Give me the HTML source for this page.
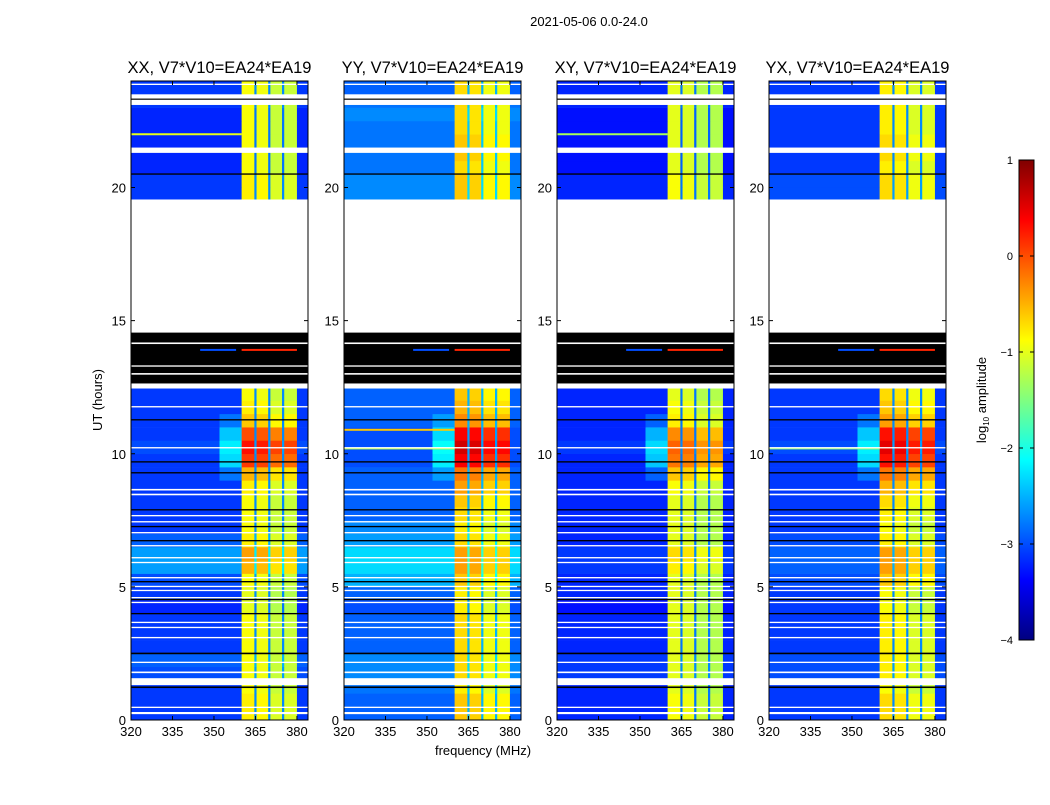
<!DOCTYPE html>
<html><head><meta charset="utf-8"><style>
html,body{margin:0;padding:0;background:#fff;}
svg text{font-family:"Liberation Sans",sans-serif;fill:#000;}
</style></head><body>
<svg id="fig" width="1050" height="800" xmlns="http://www.w3.org/2000/svg">
<defs>
<linearGradient id="jet" x1="0" y1="1" x2="0" y2="0"></linearGradient>
</defs>
<text x="589" y="26" font-size="13" text-anchor="middle">2021-05-06 0.0-24.0</text>
<text x="483" y="755" font-size="13" text-anchor="middle">frequency (MHz)</text>
<text x="102" y="400" font-size="13" text-anchor="middle" transform="rotate(-90 102 400)">UT (hours)</text>
<g id="panels"></g>
<g id="cbar"></g>
</svg>
<script>
const titles = ["XX, V7*V10=EA24*EA19","YY, V7*V10=EA24*EA19","XY, V7*V10=EA24*EA19","YX, V7*V10=EA24*EA19"];
const xTicks = [320,335,350,365,380];
const yTicks = [0,5,10,15,20];
const cbTicks = [1,0,-1,-2,-3,-4];
// log10 amplitude per 0.5h bin (bin i covers i*0.5 .. i*0.5+0.5); null = no data
const inXX = [-0.8,-0.8,-0.9,-0.9,-0.9,-0.9,-0.9,-0.9,-1.0,-1.0,-0.9,-0.5,-0.4,-0.8,-0.9,-0.9,-0.9,-0.8,-0.5,0.1,0.3,0.0,-0.6,-0.8,-0.9,null,null,null,null,null,null,null,null,null,null,null,null,null,null,-0.8,-0.8,-0.9,-0.9,-0.9,-0.9,-0.9,-0.9,-0.9];
const offXX = [-3.1,-3.1,-3.1,-3.0,-2.9,-3.1,-3.1,-3.1,-3.2,-3.1,-3.0,-2.6,-2.6,-2.9,-3.1,-3.1,-3.1,-3.1,-3.1,-3.1,-3.0,-3.1,-3.1,-3.1,-3.1,null,null,null,null,null,null,null,null,null,null,null,null,null,null,-3.1,-3.1,-3.2,-3.2,-3.2,-3.2,-3.2,-3.1,-3.1];
const haloXX = [-3.1,-3.1,-3.1,-3.0,-2.9,-3.1,-3.1,-3.1,-3.2,-3.1,-3.0,-2.6,-2.6,-2.9,-3.1,-3.1,-3.1,-3.1,-2.8,-2.3,-2.2,-2.4,-2.8,-3.1,-3.1,null,null,null,null,null,null,null,null,null,null,null,null,null,null,-3.1,-3.1,-3.2,-3.2,-3.2,-3.2,-3.2,-3.1,-3.1];
const inYY = [-0.6,-0.6,-0.8,-0.7,-0.7,-0.7,-0.7,-0.7,-0.8,-0.8,-0.6,-0.4,-0.4,-0.7,-0.8,-0.7,-0.6,-0.4,-0.2,0.4,0.6,0.4,-0.3,-0.5,-0.6,null,null,null,null,null,null,null,null,null,null,null,null,null,null,-0.6,-0.6,-0.7,-0.6,-0.6,-0.7,-0.7,-0.7,-0.7];
const offYY = [-2.9,-2.9,-2.8,-2.7,-2.7,-2.9,-2.9,-2.9,-3.0,-2.9,-2.5,-2.3,-2.3,-2.6,-2.7,-2.9,-2.9,-2.9,-2.9,-3.0,-3.0,-3.0,-2.9,-2.9,-2.9,null,null,null,null,null,null,null,null,null,null,null,null,null,null,-2.7,-2.7,-2.8,-2.8,-2.8,-2.8,-2.7,-2.8,-2.9];
const haloYY = [-2.9,-2.9,-2.8,-2.7,-2.7,-2.9,-2.9,-2.9,-3.0,-2.9,-2.5,-2.3,-2.3,-2.6,-2.7,-2.9,-2.9,-2.9,-2.6,-2.2,-2.1,-2.3,-2.6,-2.9,-2.9,null,null,null,null,null,null,null,null,null,null,null,null,null,null,-2.7,-2.7,-2.8,-2.8,-2.8,-2.8,-2.7,-2.8,-2.9];
const inXY = [-0.9,-0.9,-1.0,-1.0,-1.0,-1.0,-1.0,-1.0,-1.0,-1.0,-1.0,-0.8,-0.7,-1.0,-1.0,-1.0,-1.0,-0.9,-0.6,-0.2,-0.1,-0.3,-0.8,-0.9,-1.0,null,null,null,null,null,null,null,null,null,null,null,null,null,null,-0.9,-0.9,-1.0,-1.0,-1.0,-1.0,-1.0,-1.0,-1.0];
const offXY = [-3.2,-3.2,-3.2,-3.1,-3.1,-3.2,-3.2,-3.2,-3.3,-3.2,-3.2,-3.1,-3.1,-3.2,-3.2,-3.2,-3.2,-3.2,-3.2,-3.2,-3.1,-3.2,-3.2,-3.2,-3.2,null,null,null,null,null,null,null,null,null,null,null,null,null,null,-3.2,-3.2,-3.3,-3.3,-3.3,-3.3,-3.3,-3.2,-3.2];
const haloXY = [-3.2,-3.2,-3.2,-3.1,-3.1,-3.2,-3.2,-3.2,-3.3,-3.2,-3.2,-3.1,-3.1,-3.2,-3.2,-3.2,-3.2,-3.2,-2.9,-2.4,-2.3,-2.5,-2.9,-3.2,-3.2,null,null,null,null,null,null,null,null,null,null,null,null,null,null,-3.2,-3.2,-3.3,-3.3,-3.3,-3.3,-3.3,-3.2,-3.2];
const inYX = [-0.7,-0.7,-0.9,-0.8,-0.8,-0.8,-0.8,-0.8,-0.9,-0.9,-0.6,-0.4,-0.4,-0.8,-0.9,-0.8,-0.7,-0.5,-0.2,0.3,0.5,0.3,-0.4,-0.6,-0.7,null,null,null,null,null,null,null,null,null,null,null,null,null,null,-0.7,-0.7,-0.8,-0.7,-0.7,-0.8,-0.8,-0.8,-0.8];
const offYX = [-3.1,-3.1,-3.1,-3.0,-3.0,-3.1,-3.1,-3.1,-3.1,-3.1,-3.0,-2.9,-2.9,-3.0,-3.1,-3.1,-3.1,-3.1,-3.1,-3.1,-3.0,-3.1,-3.1,-3.1,-3.1,null,null,null,null,null,null,null,null,null,null,null,null,null,null,-3.0,-3.0,-3.1,-3.1,-3.1,-3.1,-3.1,-3.1,-3.1];
const haloYX = [-3.1,-3.1,-3.1,-3.0,-3.0,-3.1,-3.1,-3.1,-3.1,-3.1,-3.0,-2.9,-2.9,-3.0,-3.1,-3.1,-3.1,-3.1,-2.8,-2.3,-2.2,-2.4,-2.8,-3.1,-3.1,null,null,null,null,null,null,null,null,null,null,null,null,null,null,-3.0,-3.0,-3.1,-3.1,-3.1,-3.1,-3.1,-3.1,-3.1];
const segOffset = [0.0, -0.05, -0.25, -0.25];
// bright horizontal lines (hour, offband level)
const linesYY = [[10.2,-1.2],[10.9,-0.6]];
const linesYX = [[10.2,-1.4]];
const linesXX = [[22.0,-1.0]];
const linesXY = [[22.0,-1.3]];
// flagged time ranges (hours)
const whiteFlags = [[14.55,19.55],[23.1,23.5],[21.3,21.5],[1.31,1.57],[0.22,0.3],[0.45,0.5],[1.76,1.82],[2.14,2.19],[3.07,3.12],[3.45,3.5],[3.64,3.69],[4.39,4.44],[4.57,4.62],[4.84,4.89],[4.99,5.04],[5.32,5.37],[5.89,5.94],[6.07,6.12],[6.52,6.57],[7.01,7.06],[7.42,7.47],[7.65,7.7],[8.44,8.5],[8.62,8.68],[10.2,10.25],[11.74,11.79],[12.45,12.55],[23.85,23.9]];
const blackFlags = [[12.64,14.55],[1.2,1.26],[2.47,2.53],[3.97,4.02],[4.5,4.55],[5.17,5.22],[6.71,6.76],[7.24,7.29],[7.87,7.92],[9.26,9.31],[9.67,9.72],[11.25,11.3],[20.48,20.53],[23.3,23.34]];
const blackGaps = [[14.12,14.18],[13.27,13.32],[12.97,13.03]];
const blackLine = [13.9, 0.2, -3.0];

const panelsIn = [inXX,inYY,inXY,inYX], panelsOff=[offXX,offYY,offXY,offYX], panelsHalo=[haloXX,haloYY,haloXY,haloYX], panelsLines=[linesXX,linesYY,linesXY,linesYX];
const X0=[131,344,557,769], W=177, TOP=81, BOT=720;
const NS="http://www.w3.org/2000/svg";
function jetT(t){t=Math.max(0,Math.min(1,t));
 const c=x=>Math.round(255*Math.max(0,Math.min(1,1.5-Math.abs(4*t-x))));
 return `rgb(${c(3)},${c(2)},${c(1)})`;}
function jet(v){return jetT((v+4)/5);}
function el(tag,attrs,parent){const e=document.createElementNS(NS,tag);for(const k in attrs)e.setAttribute(k,attrs[k]);parent.appendChild(e);return e;}
const grad=document.getElementById('jet');
for(let i=0;i<=32;i++){el('stop',{offset:i/32,'stop-color':jetT(i/32)},grad);}
const yS=h=>BOT-(h/24)*(BOT-TOP);
const root=document.getElementById('panels');
for(let p=0;p<4;p++){
 const x0=X0[p]; const xS=f=>x0+(f-320)/64*W;
 const g=el('g',{},root);
 
 
 const cols=[[320,352,'off'],[352,360,'halo'],[360,364.6,0],[364.6,365.4,'gap'],[365.4,369.6,1],[369.6,370.4,'gap'],[370.4,374.6,2],[374.6,375.4,'gap'],[375.4,380,3],[380,384,'off']];
 const inb=panelsIn[p],off=panelsOff[p],halo=panelsHalo[p];
 for(let i=0;i<48;i++){
  if(inb[i]===null)continue;
  const y1=yS(i*0.5+0.5),y2=yS(i*0.5);
  for(const c of cols){
   let v; if(c[2]==='off')v=off[i]; else if(c[2]==='halo')v=halo[i]; else if(c[2]==='gap')v=off[i]+0.4; else v=inb[i]+segOffset[c[2]];
   const r=el('rect',{x:xS(c[0]).toFixed(2),y:y1.toFixed(2),width:(xS(c[1])-xS(c[0])+0.3).toFixed(2),height:(y2-y1+0.3).toFixed(2),fill:jet(v)},g);
   
   
  }
 }
 for(const ln of panelsLines[p]){
  const r=el('rect',{x:xS(320),y:yS(ln[0])-1,width:xS(360)-xS(320),height:2,fill:jet(ln[1])},g);
  
  
 }
 for(const f of whiteFlags){const r=el('rect',{x:x0,y:yS(f[1]),width:W,height:Math.max(1,yS(f[0])-yS(f[1])),fill:'#fff'},g);
  
  }
 for(const f of blackFlags){const r=el('rect',{x:x0,y:yS(f[1]),width:W,height:Math.max(1.2,yS(f[0])-yS(f[1])),fill:'#000'},g);
  
  }
 for(const f of blackGaps){const r=el('rect',{x:x0,y:yS(f[1]),width:W,height:Math.max(1.2,yS(f[0])-yS(f[1])),fill:'#fff'},g);
  
  }
 const bl1=el('rect',{x:xS(345),y:yS(blackLine[0])-1,width:xS(358)-xS(345),height:2,fill:jet(blackLine[2])},g);
 
 
 const bl2=el('rect',{x:xS(360),y:yS(blackLine[0])-1,width:xS(380)-xS(360),height:2,fill:jet(blackLine[1])},g);
 
 
 const fr=el('rect',{x:x0,y:TOP,width:W,height:BOT-TOP,fill:'none',stroke:'#000','stroke-width':1},g);
 
 
 const t=el('text',{x:x0+W/2,y:TOP-8,'font-size':16.5,'text-anchor':'middle'},g);t.textContent=titles[p];
 
 
 for(const v of xTicks){const x=xS(v);
  el('line',{x1:x,x2:x,y1:BOT,y2:BOT-4,stroke:'#000'},g);el('line',{x1:x,x2:x,y1:TOP,y2:TOP+4,stroke:'#000'},g);
  const tx=el('text',{x:x,y:BOT+16,'font-size':13,'text-anchor':'middle'},g);tx.textContent=v;
  
  }
 for(const v of yTicks){const y=yS(v);
  el('line',{x1:x0,x2:x0+4,y1:y,y2:y,stroke:'#000'},g);el('line',{x1:x0+W,x2:x0+W-4,y1:y,y2:y,stroke:'#000'},g);
  const ty=el('text',{x:x0-5,y:y+5,'font-size':13,'text-anchor':'end'},g);ty.textContent=v;
  
  }
}
const cb=document.getElementById('cbar');
const CX=1019,CW=15,CT=160,CB=640;
const cbr=el('rect',{x:CX,y:CT,width:CW,height:CB-CT,fill:'url(#jet)',stroke:'#000'},cb);


for(const v of cbTicks){const y=CT+(1-v)/5*(CB-CT);
 el('line',{x1:CX,x2:CX+4,y1:y,y2:y,stroke:'#000'},cb);el('line',{x1:CX+CW,x2:CX+CW-4,y1:y,y2:y,stroke:'#000'},cb);
 const t=el('text',{x:CX-6,y:y+4,'font-size':11,'text-anchor':'end'},cb);t.textContent=v<0?'\u2212'+(-v):v;
 
 }
const lab=el('text',{x:986,y:400,'font-size':13,'text-anchor':'middle',transform:'rotate(-90 986 400)'},cb);


lab.innerHTML='log<tspan font-size="8" dy="3">10</tspan><tspan dy="-3"> amplitude</tspan>';
</script>
</body></html>
